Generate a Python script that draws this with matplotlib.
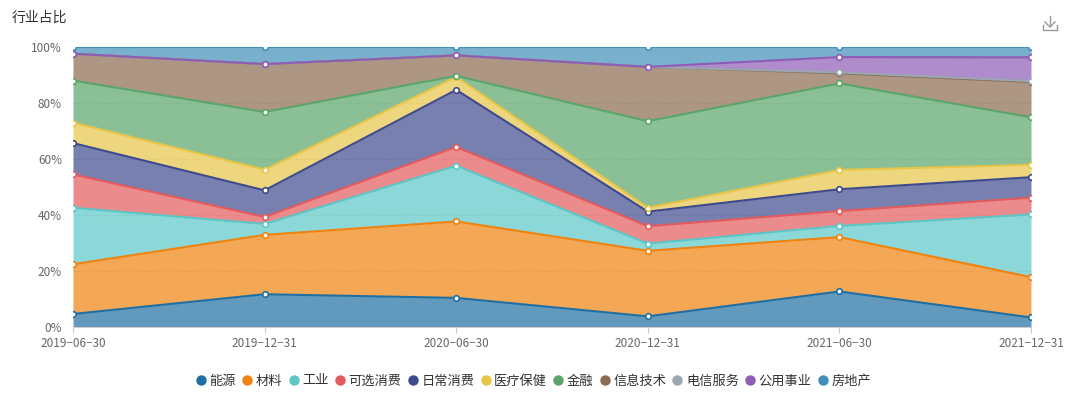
import numpy as np
import matplotlib.pyplot as plt
from matplotlib.lines import Line2D
from matplotlib.ticker import FuncFormatter

plt.rcParams['font.family'] = ['Noto Sans CJK SC', 'DejaVu Sans']

dates = ["2019-06-30", "2019-12-31", "2020-06-30", "2020-12-31", "2021-06-30", "2021-12-31"]
sectors = ["能源", "材料", "工业", "可选消费", "日常消费", "医疗保健",
           "金融", "信息技术", "电信服务", "公用事业", "房地产"]

# share of each sector, percent
energy = [4.65, 11.7, 10.4, 3.8, 12.7, 3.4]
materials = [17.75, 21.2, 27.3, 23.4, 19.4, 14.4]
industrials = [20.2, 3.9, 19.9, 2.6, 4.0, 22.4]
cons_disc = [11.9, 2.5, 6.7, 6.2, 5.3, 6.0]
cons_staples = [11.2, 9.5, 20.4, 5.2, 7.8, 7.3]
health = [7.3, 7.4, 4.6, 1.4, 6.9, 4.4]
finance = [15.0, 20.6, 0.4, 30.9, 30.9, 17.0]
info_tech = [9.6, 17.1, 7.3, 19.4, 3.6, 12.6]
telecom = [0.0, 0.0, 0.0, 0.0, 0.3, 0.3]
utilities = [0.0, 0.0, 0.0, 0.0, 5.5, 8.5]
real_estate = [2.4, 6.1, 3.0, 7.1, 3.6, 3.7]

series = [energy, materials, industrials, cons_disc, cons_staples, health,
          finance, info_tech, telecom, utilities, real_estate]
colors = ['#1f6fa3', '#f0830f', '#5cc6c6', '#e55a5c', '#3e4a8e', '#e8c547',
          '#5aa56a', '#8a6a50', '#9aa6b2', '#8e5cb5', '#3f8fb8']

vals = np.array(series)
top = np.cumsum(vals, axis=0)
bottom = top - vals
x = np.arange(len(dates))

fig = plt.figure(figsize=(10.72, 3.94), dpi=100)
ax = fig.add_axes([73/1072, 1-327/394, (1031-73)/1072, 280/394])

for i in range(len(series)):
    ax.fill_between(x, bottom[i], top[i], color=colors[i], alpha=0.7, lw=0, zorder=2)
for i in range(len(series)):
    ax.plot(x, top[i], color=colors[i], lw=1.5, marker='o', ms=4,
            mfc='white', mec=colors[i], mew=1.2, zorder=3 + i * 0.01)

ax.set_xlim(0, len(dates) - 1)
ax.set_ylim(0, 100)
ax.set_yticks([0, 20, 40, 60, 80, 100])
ax.yaxis.set_major_formatter(FuncFormatter(lambda v, p: f"{v:.0f}%"))
ax.set_xticks(x)
ax.set_xticklabels([d.replace("-", "−") for d in dates])
ax.grid(axis='y', color='#dddddd', lw=0.8, ls=(0, (2, 2)), zorder=1)
ax.set_axisbelow(True)
for s in ['top', 'right', 'left']:
    ax.spines[s].set_visible(False)
ax.spines['bottom'].set_color('#cccccc')
ax.tick_params(axis='y', length=0, pad=8, labelsize=8.5, labelcolor='#666666')
ax.tick_params(axis='x', length=4, color='#cccccc', pad=3, labelsize=8.5, labelcolor='#666666')

fig.text(12/1072, 1-18/394, "行业占比", fontsize=10, color='#333333', va='center', ha='left')

# download icon
ix, iy = 1050/1072, 1-23/394
fig.add_artist(Line2D([ix, ix], [iy + 7/394, iy - 3/394], color='#999999', lw=1))
fig.add_artist(Line2D([ix - 5/1072, ix, ix + 5/1072], [iy + 1/394, iy - 4/394, iy + 1/394], color='#999999', lw=1))
fig.add_artist(Line2D([ix - 7/1072, ix - 7/1072, ix + 7/1072, ix + 7/1072],
                      [iy - 2/394, iy - 7/394, iy - 7/394, iy - 2/394], color='#999999', lw=1))

handles = [Line2D([], [], ls='', marker='o', ms=6.5, color=c) for c in colors]
fig.legend(handles, sectors, loc='center', bbox_to_anchor=(0.498, 1-381/394), ncol=11,
           frameon=False, fontsize=9.5, handlelength=0.7, handletextpad=0.3,
           columnspacing=0.5, labelcolor='#333333')

fig.savefig("out.png", dpi=100)
